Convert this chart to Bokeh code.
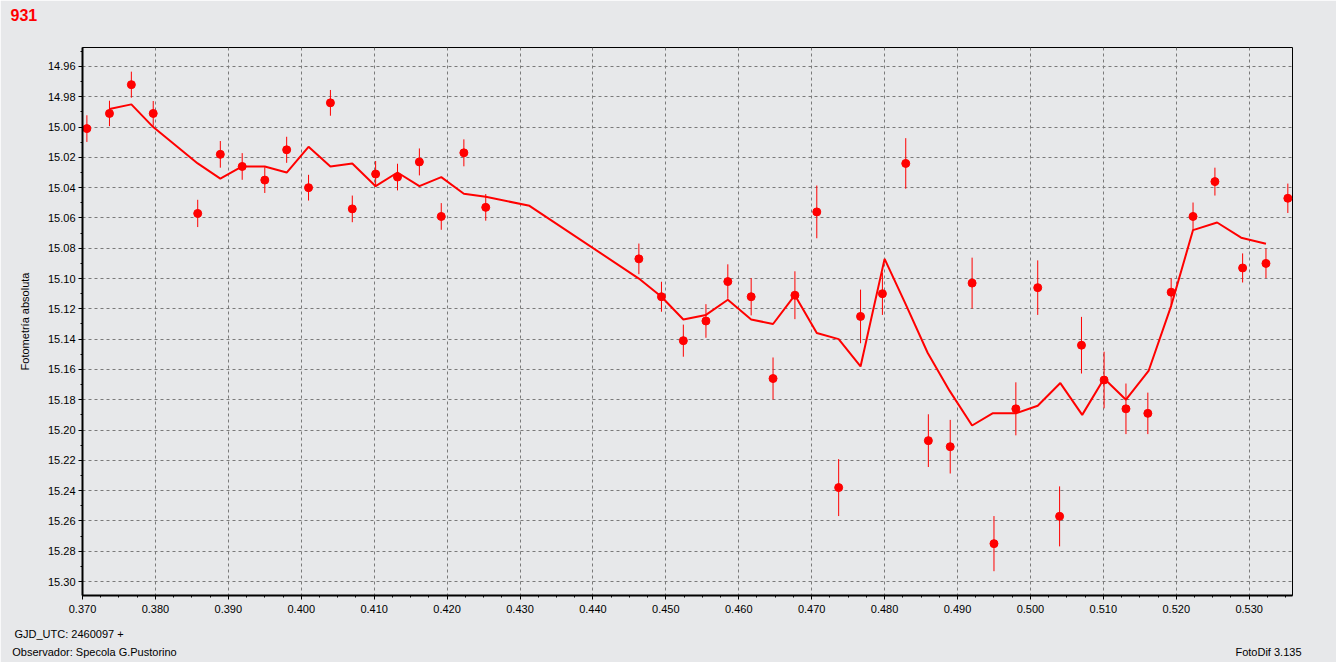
from bokeh.plotting import figure
from bokeh.models import Range1d, FixedTicker, NumeralTickFormatter, Title, LinearAxis
from bokeh.embed import file_html
from bokeh.resources import INLINE

# ---- data (phase = GJD_UTC - 2460097) ----
phase = [0.3706, 0.3737, 0.3767, 0.3797, 0.3858, 0.3889, 0.3919, 0.3950, 0.3980, 0.4010,
         0.4040, 0.4070, 0.4102, 0.4132, 0.4162, 0.4192, 0.4223, 0.4253, 0.4463, 0.4494,
         0.4524, 0.4555, 0.4585, 0.4617, 0.4647, 0.4677, 0.4707, 0.4737, 0.4767, 0.4797,
         0.4829, 0.4860, 0.4890, 0.4920, 0.4950, 0.4980, 0.5010, 0.5040, 0.5070, 0.5101,
         0.5131, 0.5161, 0.5193, 0.5223, 0.5253, 0.5291, 0.5323, 0.5353]
mag = [15.001, 14.991, 14.972, 14.991, 15.057, 15.018, 15.026, 15.035, 15.015, 15.040,
       14.984, 15.054, 15.031, 15.033, 15.023, 15.059, 15.017, 15.053, 15.087, 15.112,
       15.141, 15.128, 15.102, 15.112, 15.166, 15.111, 15.056, 15.238, 15.125, 15.110,
       15.024, 15.207, 15.211, 15.103, 15.275, 15.186, 15.106, 15.257, 15.144, 15.167,
       15.186, 15.189, 15.109, 15.059, 15.036, 15.093, 15.090, 15.047]
err = [0.0088, 0.0084, 0.0086, 0.0082, 0.0090, 0.0088, 0.0088, 0.0085, 0.0086, 0.0085,
       0.0085, 0.0088, 0.0086, 0.0088, 0.0089, 0.0088, 0.0089, 0.0088, 0.0101, 0.0099,
       0.0106, 0.0111, 0.0114, 0.0123, 0.0139, 0.0158, 0.0174, 0.0188, 0.0177, 0.0140,
       0.0167, 0.0174, 0.0177, 0.0168, 0.0182, 0.0175, 0.0180, 0.0198, 0.0187, 0.0187,
       0.0167, 0.0137, 0.0092, 0.0092, 0.0092, 0.0096, 0.0097, 0.0097]

fit_phase = [0.3737, 0.3767, 0.3797, 0.3858, 0.3889, 0.3919, 0.3950, 0.3980, 0.4010, 0.4040,
             0.4070, 0.4102, 0.4132, 0.4162, 0.4192, 0.4223, 0.4253, 0.4313, 0.4463, 0.4494,
             0.4524, 0.4555, 0.4585, 0.4617, 0.4647, 0.4677, 0.4707, 0.4737, 0.4767, 0.4800,
             0.4829, 0.4859, 0.4889, 0.4920, 0.4948, 0.4980, 0.5010, 0.5041, 0.5071, 0.5101,
             0.5131, 0.5162, 0.5193, 0.5223, 0.5256, 0.5289, 0.5323]
fit_mag = [14.988, 14.985, 15.000, 15.024, 15.034, 15.026, 15.026, 15.030, 15.013, 15.026,
           15.024, 15.039, 15.030, 15.039, 15.033, 15.044, 15.046, 15.052, 15.100, 15.112,
           15.127, 15.124, 15.114, 15.127, 15.130, 15.111, 15.136, 15.140, 15.158, 15.087,
           15.117, 15.149, 15.174, 15.197, 15.189, 15.189, 15.184, 15.169, 15.190, 15.166,
           15.180, 15.161, 15.118, 15.068, 15.063, 15.073, 15.077]

x_ticks = [0.370, 0.380, 0.390, 0.400, 0.410, 0.420, 0.430, 0.440, 0.450,
           0.460, 0.470, 0.480, 0.490, 0.500, 0.510, 0.520, 0.530]
y_ticks = [14.96, 14.98, 15.00, 15.02, 15.04, 15.06, 15.08, 15.10, 15.12,
           15.14, 15.16, 15.18, 15.20, 15.22, 15.24, 15.26, 15.28, 15.30]

title_text = "931"
y_label = "Fotometría absoluta"
footer_left_1 = "GJD_UTC: 2460097 +"
footer_left_2 = "Observador: Specola G.Pustorino"
footer_right = "FotoDif 3.135"

# ---- styling ----
BG = "#e7e8ea"
RED = "#ff0000"
FONT = "Liberation Sans"
FRAME_W = 1210

p = figure(width=1336, height=662, output_backend="svg", toolbar_location=None, title=None,
           x_range=Range1d(0.370, 0.53594), y_range=Range1d(15.30924, 14.94746),
           min_border_left=82, min_border_right=44, min_border_top=47, min_border_bottom=67)
p.background_fill_color = BG
p.border_fill_color = BG
p.outline_line_color = "black"
p.outline_line_width = 1

dx = x_ticks[1] - x_ticks[0]
dy = y_ticks[1] - y_ticks[0]
x_minor = [x_ticks[0] + i * dx / 4 for i in range(4 * (len(x_ticks) - 1) + 3)]
y_minor = [y_ticks[0] - dy / 2 + i * dy / 2 for i in range(2 * len(y_ticks) + 1)]
p.xaxis.ticker = FixedTicker(ticks=x_ticks, minor_ticks=x_minor)
p.yaxis.ticker = FixedTicker(ticks=y_ticks, minor_ticks=y_minor)
p.xaxis.formatter = NumeralTickFormatter(format="0.000")
p.yaxis.formatter = NumeralTickFormatter(format="0.00")

for ax in (p.xaxis[0], p.yaxis[0]):
    ax.axis_line_color = "black"
    ax.axis_line_width = 2
    ax.major_tick_line_color = "black"
    ax.minor_tick_line_color = "black"
    ax.major_tick_in = 0
    ax.major_tick_out = 4
    ax.minor_tick_in = 0
    ax.minor_tick_out = 2
    ax.major_label_text_font = FONT
    ax.major_label_text_font_size = "11px"
    ax.major_label_text_color = "black"
    ax.major_label_standoff = 3
p.xaxis.major_label_standoff = 5
p.yaxis.axis_label = y_label
p.yaxis.axis_label_text_font = FONT
p.yaxis.axis_label_text_font_size = "11px"
p.yaxis.axis_label_text_font_style = "normal"
p.yaxis.axis_label_text_color = "black"
p.yaxis.axis_label_standoff = 14

p.grid.grid_line_color = "#7a7a7a"
p.grid.grid_line_dash = "3 3"
p.grid.grid_line_width = 1

# ---- glyphs ----
lo = [m - e for m, e in zip(mag, err)]
hi = [m + e for m, e in zip(mag, err)]
p.segment(x0=phase, y0=lo, x1=phase, y1=hi, line_color=RED, line_width=1)
p.line(fit_phase, fit_mag, line_color=RED, line_width=2)
p.scatter(phase, mag, size=8, marker="circle", fill_color=RED, line_color=RED)

# ---- texts ----
# spacer between frame and the red title, so that the title sits near the top edge
spacer = Title(text=" ", standoff=0, text_font=FONT, text_font_size="27px")
p.add_layout(spacer, "above")
head = Title(text=title_text, align="left", offset=-72, standoff=-10, vertical_align="bottom",
             text_font=FONT, text_font_size="16px", text_font_style="bold", text_color=RED)
p.add_layout(head, "above")

gjd = Title(text=footer_left_1, align="left", offset=-68, standoff=20, text_font=FONT,
            text_font_size="11px", text_font_style="normal", text_color="black")
p.add_layout(gjd, "below")

# footer row: an unlined axis whose two tick labels carry the footer texts
p.extra_x_ranges = {"footer": Range1d(0, FRAME_W)}
foot_ticks = [12, 1186]
foot_axis = LinearAxis(x_range_name="footer",
                       ticker=FixedTicker(ticks=foot_ticks, minor_ticks=[]),
                       major_label_overrides={foot_ticks[0]: footer_left_2,
                                              foot_ticks[1]: footer_right},
                       axis_line_color=None, major_tick_line_color=None,
                       minor_tick_line_color=None, major_tick_out=0, major_tick_in=0,
                       major_label_standoff=-4, major_label_text_font=FONT,
                       major_label_text_font_size="11px", major_label_text_color="black")
p.add_layout(foot_axis, "below")

open("out.html", "w").write(file_html(p, INLINE))
